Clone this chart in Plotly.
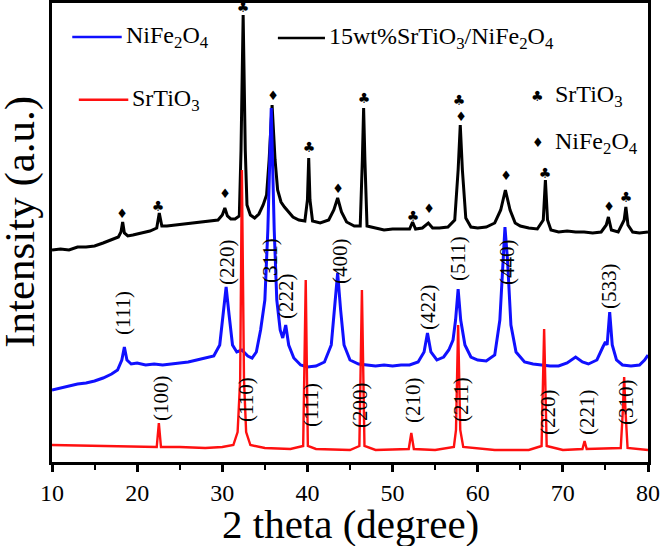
import plotly.graph_objects as go

# ---------------- data (2theta in degrees, intensity in arbitrary units) -------------
comp_x = [10.0, 11, 12, 13, 14, 15, 16, 17, 17.8, 18.1, 18.3, 18.5, 18.9, 19.5, 20.5, 21.5, 22.3, 22.6,
          22.9, 23.5, 24.5, 25.5, 26.5, 27.5, 28.5, 29.5, 30.0, 30.3, 30.6, 31.0, 31.5, 32.0, 32.2, 32.45,
          32.7, 32.9, 33.3, 33.8, 34.3, 34.8, 35.2, 35.5, 35.85, 36.2, 36.5, 36.9, 37.3, 37.8, 38.3, 39.0,
          39.7, 40.0, 40.15, 40.3, 40.6, 41.5, 42.5, 43.1, 43.55, 44.0, 44.6, 45.5, 46.2, 46.45, 46.6, 46.75,
          47.0, 48, 49, 50, 51, 52, 52.35, 52.7, 53.5, 54.2, 54.7, 55.5, 56.5, 57.3, 57.7, 57.95, 58.2, 58.6,
          59.2, 60, 61, 62, 62.7, 63.25, 63.8, 64.4, 65, 66, 67, 67.7, 67.95, 68.2, 68.6, 69.5, 70.5, 71.5,
          72.5, 73.5, 74.5, 75.1, 75.35, 75.7, 76.5, 77.2, 77.4, 77.65, 78.2, 79, 80]
comp_y = [212, 213, 212, 215, 215, 216, 219, 222, 225, 230, 240, 229, 226, 227, 229, 231, 234, 249,
          236, 236, 237, 238, 239, 240, 241, 242, 247, 254, 246, 243, 243, 246, 312, 447,
          312, 257, 247, 244, 248, 257, 267, 302, 357, 302, 272, 260, 255, 250, 245, 242,
          241, 262, 304, 262, 241, 239, 242, 252, 264, 250, 240, 236, 236, 302, 354, 302,
          236, 234, 232, 233, 233, 233, 240, 233, 234, 239, 234, 234, 235, 242, 292, 337, 292, 244,
          235, 234, 235, 239, 252, 272, 252, 239, 236, 234, 233, 242, 282, 242, 232, 230, 231, 230,
          230, 229, 230, 237, 245, 232, 230, 242, 255, 237, 230, 229, 230]

nfo_x = [10.0, 11, 12, 13, 14, 15, 16, 17, 17.7, 18.2, 18.5, 18.8, 19.3, 20, 21, 22, 23, 24, 25, 26, 27,
         28, 29, 29.7, 30.1, 30.45, 30.8, 31.2, 31.7, 32.3, 33, 33.5, 34.0, 34.5, 35.0, 35.35, 35.75, 36.1,
         36.4, 36.8, 37.1, 37.45, 37.8, 38.4, 39.2, 40, 41, 42, 42.8, 43.2, 43.55, 43.9, 44.3, 45, 46, 47,
         48, 49, 50, 51, 52, 53, 53.7, 54.1, 54.5, 55.2, 56, 56.6, 57.1, 57.4, 57.7, 58.0, 58.5, 59.2, 60,
         61, 62, 62.6, 62.95, 63.2, 63.5, 63.9, 64.5, 65.5, 66.5, 67.5, 68.5, 69.5, 70.5, 71.5, 72.3, 73,
         74, 74.7, 75.0, 75.2, 75.5, 75.8, 76.3, 77, 78, 79, 79.6, 80]
nfo_y = [72, 74, 76, 78, 79, 81, 84, 88, 92, 102, 115, 102, 98, 99, 97, 98, 97, 98, 99, 100, 102,
         104, 106, 117, 147, 175, 147, 117, 110, 112, 106, 104, 110, 132, 162, 232, 354, 232,
         162, 132, 124, 137, 117, 104, 97, 95, 96, 100, 117, 152, 189, 152, 117, 102, 98, 97,
         96, 97, 96, 97, 97, 100, 110, 129, 110, 102, 105, 112, 122, 142, 173, 142, 117, 105, 102,
         101, 107, 142, 202, 235, 202, 137, 110, 100, 98, 97, 96, 96, 99, 105, 100, 98,
         102, 115, 120, 117, 150, 117, 102, 97, 96, 97, 102, 107]

sto_x = [10, 15, 20, 22.3, 22.55, 22.8, 25, 28, 30, 31.3, 31.8, 32.1, 32.3, 32.55, 32.8, 33.3, 35, 38,
         39.5, 39.8, 40.05, 41, 45, 46.1, 46.4, 46.7, 48, 51.9, 52.2, 52.5, 55, 57.2, 57.45, 57.7, 57.95,
         58.3, 62, 66, 67.5, 67.8, 68.1, 70, 72.3, 72.55, 72.8, 76.8, 77.05, 77.2, 77.35, 77.6, 80]
sto_y = [17, 16, 15, 15, 39, 15, 15, 14, 15, 17, 30, 82, 292, 82, 30, 17, 14, 13,
         16, 182, 16, 13, 12, 16, 172, 16, 12, 13, 29, 13, 12, 15, 32, 137, 32,
         15, 12, 12, 16, 133, 16, 12, 13, 21, 13, 14, 52, 85, 52, 14, 12]

series_names = ["15wt%SrTiO<sub>3</sub>/NiFe<sub>2</sub>O<sub>4</sub>", "NiFe<sub>2</sub>O<sub>4</sub>",
                "SrTiO<sub>3</sub>"]

# hkl labels
nfo_hkl = ["(111)", "(220)", "(311)", "(222)", "(400)", "(422)", "(511)", "(440)", "(533)"]
nfo_hkl_x = [18.34, 30.55, 35.6, 37.48, 43.83, 54.16, 57.69, 63.44, 75.42]
nfo_hkl_y = [149, 200, 202, 166, 201, 155, 203, 200, 176]

sto_hkl = ["(100)", "(110)", "(111)", "(200)", "(210)", "(211)", "(220)", "(221)", "(310)"]
sto_hkl_x = [22.80, 32.79, 40.42, 46.18, 52.40, 58.04, 68.26, 72.84, 77.42]
sto_hkl_y = [64, 62, 57, 57, 62, 62, 50, 50, 60]

# phase markers on the composite pattern
club_x = [22.45, 32.43, 40.19, 46.65, 52.40, 57.80, 67.90, 77.42]
club_y = [255, 454, 314, 363, 245, 361, 288, 264]
diam_x = [18.22, 30.32, 35.96, 43.59, 54.28, 58.04, 63.32, 75.42]
diam_y = [247, 267, 365, 272, 252, 344, 285, 254]

x_ticks = [10, 20, 30, 40, 50, 60, 70, 80]

SERIF = "Liberation Serif, Times New Roman, serif"
SYM = "DejaVu Sans"

fig = go.Figure()
fig.add_trace(go.Scatter(x=comp_x, y=comp_y, mode="lines", line=dict(color="#000000", width=3),
                         name=series_names[0], showlegend=False))
fig.add_trace(go.Scatter(x=nfo_x, y=nfo_y, mode="lines", line=dict(color="#1010ff", width=3),
                         name=series_names[1], showlegend=False))
fig.add_trace(go.Scatter(x=sto_x, y=sto_y, mode="lines", line=dict(color="#ff1010", width=2.4),
                         name=series_names[2], showlegend=False))
fig.add_trace(go.Scatter(x=club_x, y=club_y, mode="text", text=["♣"] * len(club_x),
                         textfont=dict(family=SYM, size=14, color="black"), showlegend=False))
fig.add_trace(go.Scatter(x=diam_x, y=diam_y, mode="text", text=["♦"] * len(diam_x),
                         textfont=dict(family=SYM, size=13, color="black"), showlegend=False))

annotations = []
for t, x, y in zip(nfo_hkl + sto_hkl, nfo_hkl_x + sto_hkl_x, nfo_hkl_y + sto_hkl_y):
    annotations.append(dict(x=x, y=y, xref="x", yref="y", text=t, textangle=-90, showarrow=False,
                            font=dict(family=SERIF, size=21, color="black"),
                            xanchor="center", yanchor="middle"))

# legend (drawn manually, two columns as in the original)
shapes = [
    dict(type="line", xref="paper", yref="paper", x0=0.034, x1=0.117, y0=0.926, y1=0.926,
         line=dict(color="#1010ff", width=2.5)),
    dict(type="line", xref="paper", yref="paper", x0=0.379, x1=0.458, y0=0.924, y1=0.924,
         line=dict(color="#000000", width=2.5)),
    dict(type="line", xref="paper", yref="paper", x0=0.045, x1=0.128, y0=0.789, y1=0.789,
         line=dict(color="#ff1010", width=2.5)),
]
leg_font = dict(family=SERIF, size=24, color="black")
annotations += [
    dict(x=0.121, y=0.926, xref="paper", yref="paper", text=series_names[1], showarrow=False,
         font=leg_font, xanchor="left", yanchor="middle"),
    dict(x=0.461, y=0.924, xref="paper", yref="paper", text=series_names[0], showarrow=False,
         font=leg_font, xanchor="left", yanchor="middle"),
    dict(x=0.131, y=0.789, xref="paper", yref="paper", text=series_names[2], showarrow=False,
         font=leg_font, xanchor="left", yanchor="middle"),
    dict(x=0.815, y=0.797, xref="paper", yref="paper", text="♣", showarrow=False,
         font=dict(family=SYM, size=14, color="black"), xanchor="center", yanchor="middle"),
    dict(x=0.841, y=0.797, xref="paper", yref="paper", text="SrTiO<sub>3</sub>", showarrow=False,
         font=leg_font, xanchor="left", yanchor="middle"),
    dict(x=0.815, y=0.695, xref="paper", yref="paper", text="♦", showarrow=False,
         font=dict(family=SYM, size=13, color="black"), xanchor="center", yanchor="middle"),
    dict(x=0.841, y=0.695, xref="paper", yref="paper", text="NiFe<sub>2</sub>O<sub>4</sub>",
         showarrow=False, font=leg_font, xanchor="left", yanchor="middle"),
    # axis titles
    dict(x=0.5, y=-0.134, xref="paper", yref="paper", text="2 theta (degree)", showarrow=False,
         font=dict(family=SERIF, size=41, color="black"), xanchor="center", yanchor="middle"),
    dict(x=-0.054, y=0.523, xref="paper", yref="paper", text="Intensity (a.u.)", showarrow=False,
         textangle=-90, font=dict(family=SERIF, size=43, color="black"),
         xanchor="center", yanchor="middle"),
]

fig.update_layout(
    width=662, height=546,
    margin=dict(l=52, r=14, t=3, b=84, autoexpand=False),
    paper_bgcolor="white", plot_bgcolor="white",
    showlegend=False,
    shapes=shapes, annotations=annotations,
    xaxis=dict(range=[10, 80], tickmode="array", tickvals=x_ticks, ticktext=[str(v) for v in x_ticks],
               ticks="outside", ticklen=7, tickwidth=2.5, tickcolor="black", automargin=False,
               minor=dict(dtick=5, tick0=10, ticks="outside", ticklen=5, tickwidth=2, tickcolor="black"),
               showline=True, linewidth=3, linecolor="black", mirror=True, showgrid=False, zeroline=False,
               tickfont=dict(family=SERIF, size=24, color="black")),
    yaxis=dict(range=[0, 459], showticklabels=False, ticks="", showline=True, linewidth=3,
               linecolor="black", mirror=True, showgrid=False, zeroline=False, automargin=False),
)

fig.write_html("out.html", config={"displayModeBar": False},
               post_script="document.body.style.margin='0';document.body.style.padding='0';")
